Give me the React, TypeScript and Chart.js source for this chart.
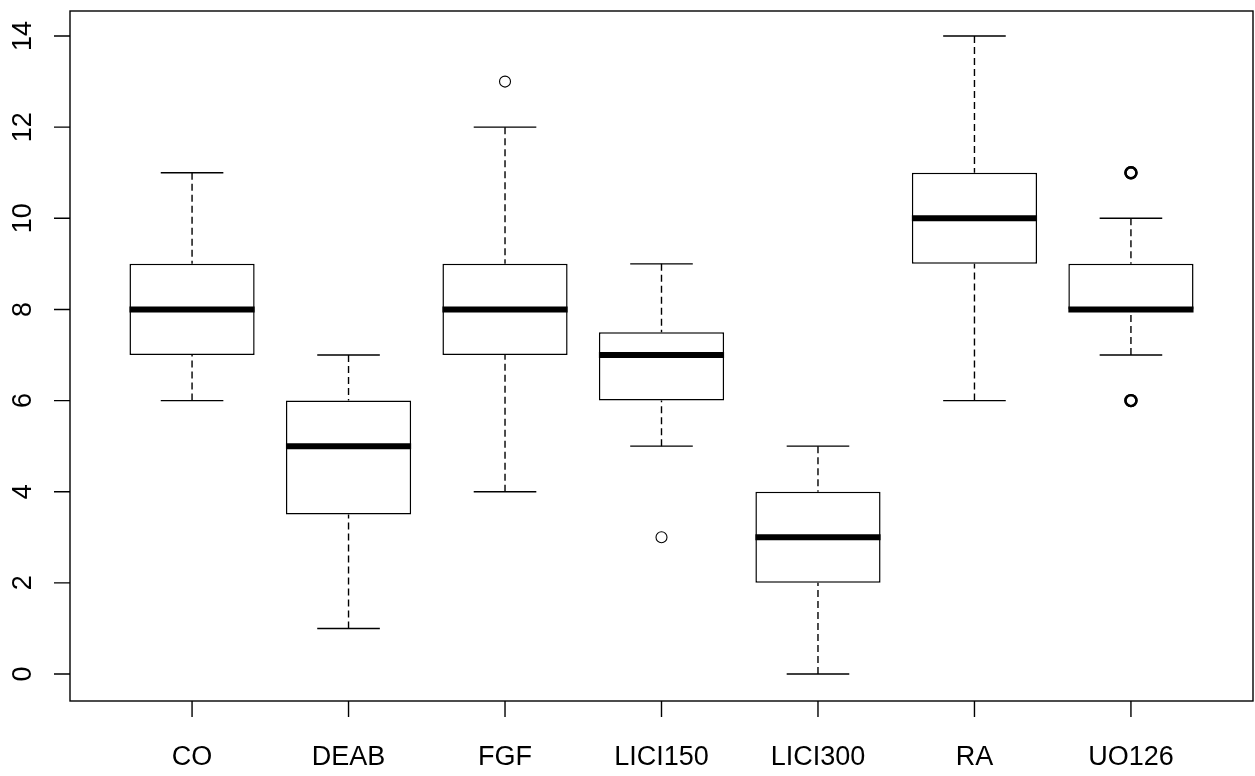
import React, { useEffect, useRef } from "react";
import { Chart, registerables } from "chart.js";

Chart.register(...registerables);

const categories = ["CO", "DEAB", "FGF", "LICI150", "LICI300", "RA", "UO126"];
const lowerWhisker = [6, 1, 4, 5, 0, 6, 7];
const q1 = [7, 3.5, 7, 6, 2, 9, 8];
const median = [8, 5, 8, 7, 3, 10, 8];
const q3 = [9, 6, 9, 7.5, 4, 11, 9];
const upperWhisker = [11, 7, 12, 9, 5, 14, 10];
// outliers: group index (1-based) and value; repeated values are listed once per observation
const outlierGroup = [3, 4, 7, 7, 7, 7];
const outlierValue = [13, 3, 11, 11, 6, 6];
const yTicks = [0, 2, 4, 6, 8, 10, 12, 14];

const FONT = '"Liberation Sans", Arial, Helvetica, sans-serif';

const boxPlugin = {
  id: "rBoxplot",
  beforeDatasetsDraw(chart: any) {
    const { ctx, chartArea } = chart;
    ctx.save();
    ctx.strokeStyle = "#000";
    ctx.lineWidth = 1.4;
    ctx.strokeRect(chartArea.left, chartArea.top, chartArea.right - chartArea.left, chartArea.bottom - chartArea.top);
    ctx.restore();
  },
  afterDatasetsDraw(chart: any) {
    const { ctx } = chart;
    const xs = chart.scales.x;
    const ys = chart.scales.y;
    const meta = chart.getDatasetMeta(0);
    ctx.save();
    ctx.strokeStyle = "#000";
    categories.forEach((_, i) => {
      const bar: any = meta.data[i];
      const cx = xs.getPixelForValue(i + 1);
      const half = bar ? bar.width / 2 : 60;
      // whiskers (dashed), from whisker end to hinge
      ctx.lineWidth = 1.4;
      ctx.setLineDash([7, 4]);
      ctx.beginPath();
      ctx.moveTo(cx, ys.getPixelForValue(upperWhisker[i]));
      ctx.lineTo(cx, ys.getPixelForValue(q3[i]));
      ctx.moveTo(cx, ys.getPixelForValue(lowerWhisker[i]));
      ctx.lineTo(cx, ys.getPixelForValue(q1[i]));
      ctx.stroke();
      ctx.setLineDash([]);
      // caps
      ctx.beginPath();
      ctx.moveTo(cx - half / 2, ys.getPixelForValue(upperWhisker[i]));
      ctx.lineTo(cx + half / 2, ys.getPixelForValue(upperWhisker[i]));
      ctx.moveTo(cx - half / 2, ys.getPixelForValue(lowerWhisker[i]));
      ctx.lineTo(cx + half / 2, ys.getPixelForValue(lowerWhisker[i]));
      ctx.stroke();
      // median
      ctx.lineWidth = 6;
      ctx.lineCap = "butt";
      ctx.beginPath();
      ctx.moveTo(cx - half, ys.getPixelForValue(median[i]));
      ctx.lineTo(cx + half, ys.getPixelForValue(median[i]));
      ctx.stroke();
    });
    ctx.restore();
  },
  afterDraw(chart: any) {
    const { ctx, chartArea } = chart;
    const xs = chart.scales.x;
    const ys = chart.scales.y;
    ctx.save();
    ctx.strokeStyle = "#000";
    ctx.fillStyle = "#000";
    ctx.lineWidth = 1.4;
    ctx.font = `27px ${FONT}`;
    ctx.beginPath();
    yTicks.forEach((v) => {
      const py = ys.getPixelForValue(v);
      ctx.moveTo(chartArea.left - 16, py);
      ctx.lineTo(chartArea.left, py);
    });
    categories.forEach((_, i) => {
      const px = xs.getPixelForValue(i + 1);
      ctx.moveTo(px, chartArea.bottom);
      ctx.lineTo(px, chartArea.bottom + 16);
    });
    ctx.stroke();
    ctx.textAlign = "center";
    ctx.textBaseline = "middle";
    yTicks.forEach((v) => {
      const py = ys.getPixelForValue(v);
      ctx.save();
      ctx.translate(chartArea.left - 46, py);
      ctx.rotate(-Math.PI / 2);
      ctx.fillText(String(v), 0, 0);
      ctx.restore();
    });
    categories.forEach((c, i) => {
      const px = xs.getPixelForValue(i + 1);
      ctx.fillText(c, px, chartArea.bottom + 57);
    });
    ctx.restore();
  },
};

function duplicateCount(i: number) {
  let n = 0;
  outlierGroup.forEach((g, j) => {
    if (g === outlierGroup[i] && outlierValue[j] === outlierValue[i]) n++;
  });
  return n;
}

export default function App() {
  const ref = useRef<HTMLCanvasElement | null>(null);
  useEffect(() => {
    if (!ref.current) return;
    const chart = new Chart(ref.current, {
      type: "bar",
      data: {
        datasets: [
          {
            type: "bar",
            data: categories.map((_, i) => ({ x: i + 1, y: [q1[i], q3[i]] })) as any,
            backgroundColor: "#ffffff",
            borderColor: "#000000",
            borderWidth: 1.5,
            borderSkipped: false,
            barPercentage: 0.8,
            categoryPercentage: 1,
          } as any,
          {
            type: "scatter",
            data: outlierGroup.map((g, i) => ({ x: g, y: outlierValue[i] })),
            pointStyle: "circle",
            pointRadius: 5.5,
            pointBorderWidth: (c: any) => (duplicateCount(c.dataIndex) > 1 ? 2.4 : 1.1),
            pointBorderColor: "#000000",
            pointBackgroundColor: "rgba(0,0,0,0)",
            showLine: false,
          } as any,
        ],
      },
      options: {
        animation: false,
        responsive: false,
        devicePixelRatio: 1,
        layout: { autoPadding: false, padding: { left: 70, top: 11, right: 2, bottom: 75 } },
        plugins: { legend: { display: false }, tooltip: { enabled: false } },
        events: [],
        scales: {
          x: {
            type: "linear",
            display: false,
            min: 0.22,
            max: 7.78,
            offset: false,
            afterBuildTicks: (axis: any) => {
              axis.ticks = categories.map((_, i) => ({ value: i + 1 }));
            },
          },
          y: {
            type: "linear",
            display: false,
            min: -0.5925,
            max: 14.549,
          },
        },
      } as any,
      plugins: [boxPlugin],
    });
    return () => chart.destroy();
  }, []);
  return (
    <div style={{ position: "absolute", left: 0, top: 0, width: 1255, height: 776, background: "#fff" }}>
      <canvas ref={ref} width={1255} height={776} style={{ display: "block" }} />
    </div>
  );
}
